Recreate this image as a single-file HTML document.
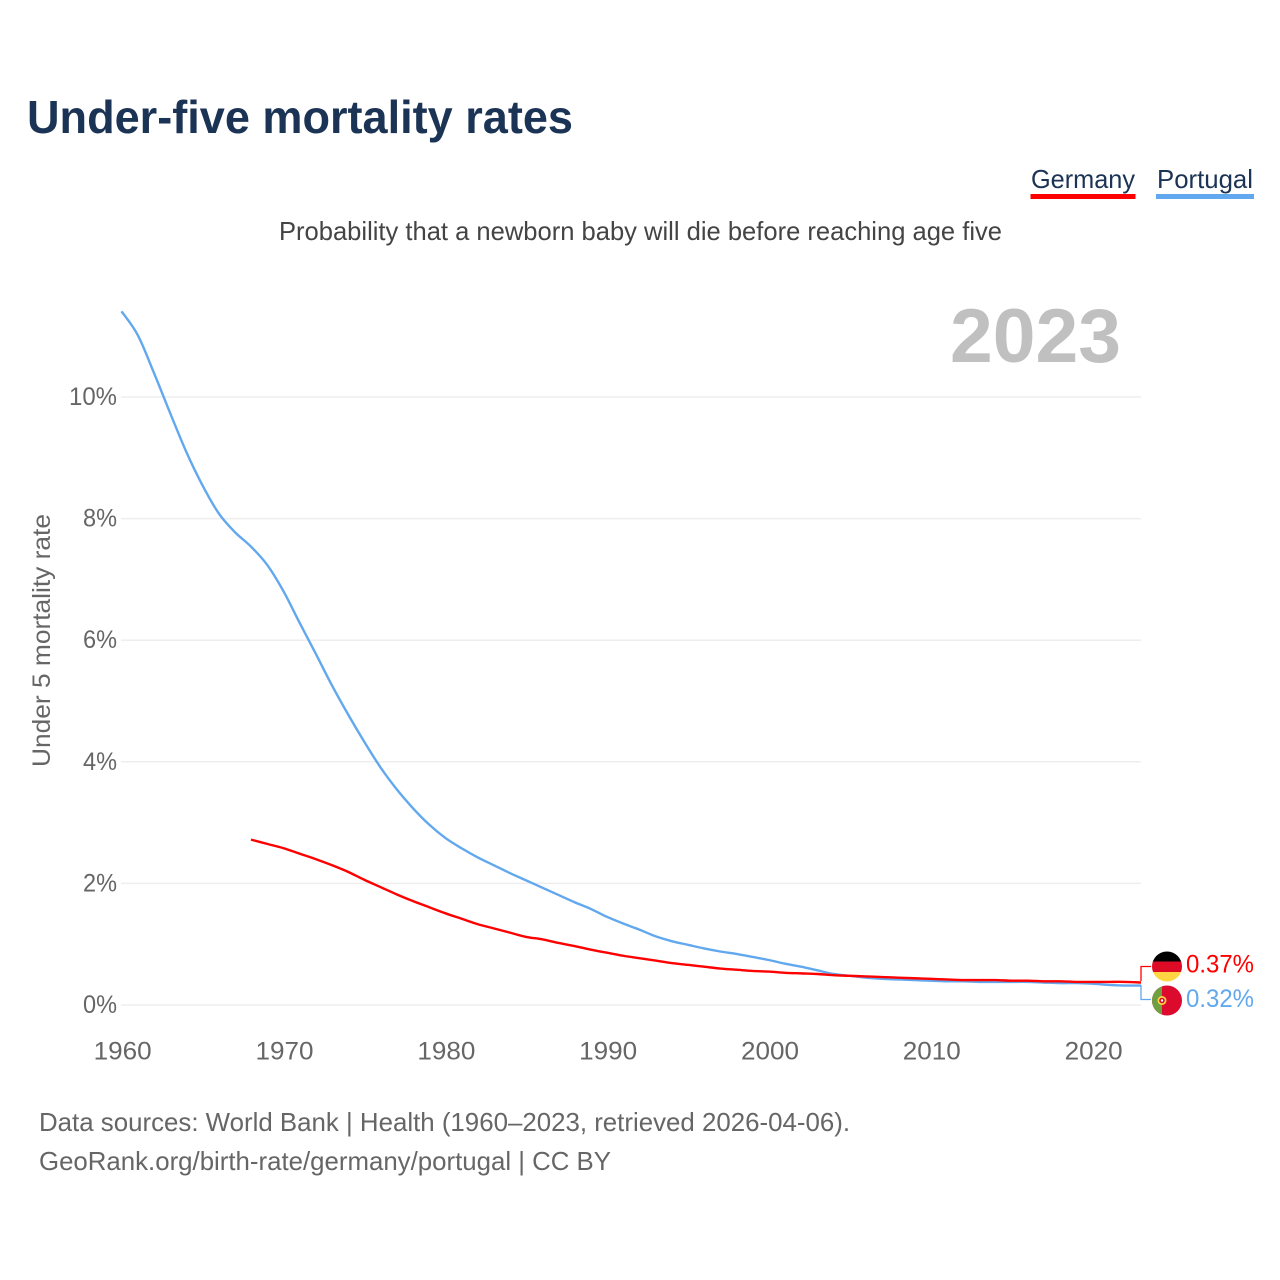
<!DOCTYPE html>
<html lang="en">
<head>
<meta charset="utf-8">
<title>Under-five mortality rates</title>
<style>
html,body{margin:0;padding:0;background:#fff;}
svg{display:block;font-family:"Liberation Sans",sans-serif;}
</style>
</head>
<body>
<svg id="chart" xmlns="http://www.w3.org/2000/svg" width="1280" height="1280" viewBox="0 0 1280 1280">
  <rect width="1280" height="1280" fill="#fff"/>
  <text x="27" y="133" font-size="46" font-weight="700" fill="#1b3354" textLength="546" lengthAdjust="spacingAndGlyphs">Under-five mortality rates</text>
  <text x="1031" y="188" font-size="26" fill="#1b3354" textLength="104" lengthAdjust="spacingAndGlyphs">Germany</text>
  <rect x="1030.500" y="194" width="105" height="5" fill="#ff0000"/>
  <text x="1157" y="188" font-size="26" fill="#1b3354" textLength="96" lengthAdjust="spacingAndGlyphs">Portugal</text>
  <rect x="1156" y="194" width="98" height="5" fill="#62a8ee"/>
  <text x="279" y="240" font-size="26" fill="#444" textLength="723" lengthAdjust="spacingAndGlyphs">Probability that a newborn baby will die before reaching age five</text>
  <text x="950" y="362" font-size="76" font-weight="700" fill="#c0c0c0" textLength="171" lengthAdjust="spacingAndGlyphs">2023</text>
  <text transform="translate(50,767) rotate(-90)" font-size="25" fill="#666" textLength="253" lengthAdjust="spacingAndGlyphs">Under 5 mortality rate</text>
  <g id="grid"></g>
  <g id="yticks"></g>
  <g id="xticks"></g>
  <g id="lines"></g>
  <path d="M1141 981V966.500H1151" fill="none" stroke="#ff0000" stroke-width="1.300"/>
  <path d="M1141 985V999.500H1151" fill="none" stroke="#62a8ee" stroke-width="1.300"/>
  <defs>
    <clipPath id="clip-de"><circle cx="1167" cy="966.500" r="15"/></clipPath>
    <clipPath id="clip-pt"><circle cx="1167" cy="1000.500" r="15"/></clipPath>
  </defs>
  <g clip-path="url(#clip-de)">
    <rect x="1152" y="951" width="30" height="11" fill="#000"/>
    <rect x="1152" y="961.500" width="30" height="10.500" fill="#dd0b26"/>
    <rect x="1152" y="972" width="30" height="10" fill="#ffd642"/>
  </g>
  <g clip-path="url(#clip-pt)">
    <rect x="1152" y="985" width="30" height="31" fill="#dc0a2c"/>
    <rect x="1152" y="985" width="10" height="31" fill="#6f9f40"/>
    <circle cx="1162" cy="1000.500" r="4.500" fill="#ffd642"/>
    <circle cx="1162" cy="1000.500" r="2.800" fill="#dc0a2c"/>
    <circle cx="1162" cy="1000.500" r="1.200" fill="#fff"/>
  </g>
  <text id="end-de" x="1186" y="972.500" font-size="25" fill="#ff0000" textLength="68" lengthAdjust="spacingAndGlyphs"></text>
  <text id="end-pt" x="1186" y="1007" font-size="25" fill="#62a8ee" textLength="68" lengthAdjust="spacingAndGlyphs"></text>
  <text x="39" y="1131" font-size="26" fill="#666" textLength="811" lengthAdjust="spacingAndGlyphs">Data sources: World Bank | Health (1960–2023, retrieved 2026-04-06).</text>
  <text x="39" y="1170" font-size="26" fill="#666" textLength="572" lengthAdjust="spacingAndGlyphs">GeoRank.org/birth-rate/germany/portugal | CC BY</text>
</svg>
<script>
const yTicks = [0, 2, 4, 6, 8, 10];
const xTicks = [1960, 1970, 1980, 1990, 2000, 2010, 2020];
const portugalStart = 1960;
const portugalValues = [11.41,11.02,10.40,9.74,9.10,8.55,8.09,7.78,7.54,7.24,6.81,6.29,5.78,5.26,4.78,4.33,3.91,3.55,3.24,2.97,2.75,2.58,2.43,2.30,2.17,2.05,1.93,1.81,1.69,1.58,1.45,1.34,1.24,1.13,1.05,0.99,0.93,0.88,0.84,0.79,0.74,0.68,0.63,0.57,0.51,0.48,0.45,0.43,0.42,0.41,0.40,0.39,0.39,0.38,0.38,0.38,0.38,0.37,0.36,0.36,0.35,0.33,0.32,0.32];
const germanyStart = 1968;
const germanyValues = [2.72,2.65,2.58,2.49,2.40,2.30,2.19,2.06,1.94,1.82,1.71,1.61,1.51,1.42,1.33,1.26,1.19,1.12,1.08,1.02,0.97,0.91,0.86,0.81,0.77,0.73,0.69,0.66,0.63,0.60,0.58,0.56,0.55,0.53,0.52,0.51,0.49,0.48,0.47,0.46,0.45,0.44,0.43,0.42,0.41,0.41,0.41,0.40,0.40,0.39,0.39,0.38,0.38,0.38,0.38,0.37];

const NS = 'http://www.w3.org/2000/svg';
const xScale = function (year) { return 121.5 + (year - 1960) * (1141 - 121.5) / 63; };
const yScale = function (value) { return 1005 - value * 60.8; };

const grid = document.getElementById('grid');
const yTickGroup = document.getElementById('yticks');
yTicks.forEach(function (t) {
  const line = document.createElementNS(NS, 'line');
  
  
  line.setAttribute('x1', 121);
  line.setAttribute('x2', 1141);
  line.setAttribute('y1', yScale(t));
  line.setAttribute('y2', yScale(t));
  line.setAttribute('stroke', '#eeeeee');
  line.setAttribute('stroke-width', 1.5);
  grid.appendChild(line);

  const label = document.createElementNS(NS, 'text');
  
  
  const text = t + '%';
  const w = text.length === 3 ? 48 : 34;
  label.setAttribute('x', 117 - w);
  label.setAttribute('y', yScale(t) + 8);
  label.setAttribute('font-size', 25);
  label.setAttribute('fill', '#666');
  label.setAttribute('textLength', w);
  label.setAttribute('lengthAdjust', 'spacingAndGlyphs');
  label.textContent = text;
  yTickGroup.appendChild(label);
});

const xTickGroup = document.getElementById('xticks');
xTicks.forEach(function (t) {
  const label = document.createElementNS(NS, 'text');
  
  
  label.setAttribute('x', xScale(t) + 1.2 - 29);
  label.setAttribute('y', 1059.5);
  label.setAttribute('font-size', 25);
  label.setAttribute('fill', '#666');
  label.setAttribute('textLength', 58);
  label.setAttribute('lengthAdjust', 'spacingAndGlyphs');
  label.textContent = t;
  xTickGroup.appendChild(label);
});

function linePath(start, values) {
  const pts = values.map(function (v, i) {
    return [xScale(start + i), yScale(v)];
  });
  let d = 'M' + pts[0][0].toFixed(2) + ' ' + pts[0][1].toFixed(2);
  for (let i = 0; i < pts.length - 1; i++) {
    const p0 = pts[Math.max(i - 1, 0)];
    const p1 = pts[i];
    const p2 = pts[i + 1];
    const p3 = pts[Math.min(i + 2, pts.length - 1)];
    const c1x = p1[0] + (p2[0] - p0[0]) / 6;
    const c1y = p1[1] + (p2[1] - p0[1]) / 6;
    const c2x = p2[0] - (p3[0] - p1[0]) / 6;
    const c2y = p2[1] - (p3[1] - p1[1]) / 6;
    d += 'C' + c1x.toFixed(2) + ' ' + c1y.toFixed(2) + ' ' + c2x.toFixed(2) + ' ' + c2y.toFixed(2) + ' ' + p2[0].toFixed(2) + ' ' + p2[1].toFixed(2);
  }
  return d;
}

const lines = document.getElementById('lines');
const portugalLine = document.createElementNS(NS, 'path');


portugalLine.setAttribute('d', linePath(portugalStart, portugalValues));
portugalLine.setAttribute('fill', 'none');
portugalLine.setAttribute('stroke', '#62a8ee');
portugalLine.setAttribute('stroke-width', 2.4);
portugalLine.setAttribute('stroke-linejoin', 'round');

const germanyLine = document.createElementNS(NS, 'path');


germanyLine.setAttribute('d', linePath(germanyStart, germanyValues));
germanyLine.setAttribute('fill', 'none');
germanyLine.setAttribute('stroke', '#ff0000');
germanyLine.setAttribute('stroke-width', 2.4);
germanyLine.setAttribute('stroke-linejoin', 'round');

lines.appendChild(portugalLine);
lines.appendChild(germanyLine);

document.getElementById('end-de').textContent = germanyValues[germanyValues.length - 1].toFixed(2) + '%';
document.getElementById('end-pt').textContent = portugalValues[portugalValues.length - 1].toFixed(2) + '%';
</script>
</body>
</html>
